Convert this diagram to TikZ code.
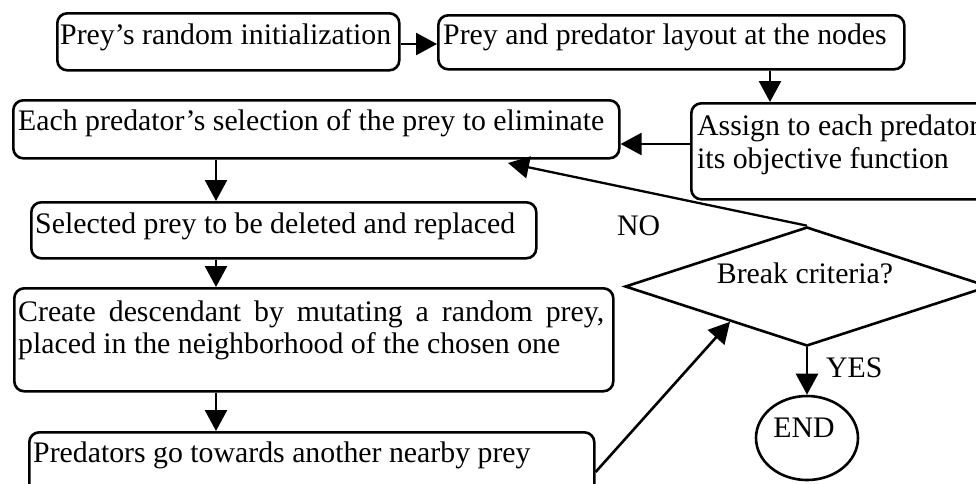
\documentclass[tikz,border=0pt]{standalone}
\usepackage{fontspec}
\setmainfont{Liberation Serif}
\usetikzlibrary{arrows.meta,shapes.geometric,calc}
\tikzset{
  box/.style={draw, line width=2.6pt, rounded corners=10pt, inner sep=0pt, anchor=north west},
  lbl/.style={anchor=base west, inner sep=0pt, font=\fontsize{29.8}{33}\selectfont},
  arr/.style={line width=2.6pt, -{Triangle[length=21pt,width=22pt]}},
}
\begin{document}
\begin{tikzpicture}[x=1pt,y=-1pt]
\useasboundingbox (0,0) rectangle (976,483);
\clip (0,0) rectangle (976,483);
% boxes
\node[box, minimum width=342pt, minimum height=57pt] (b1) at (56,12) {};
\node[box, minimum width=466pt, minimum height=54pt] (b2) at (437,14) {};
\node[box, minimum width=320pt, minimum height=96pt] (b3) at (690,102) {};
\node[box, minimum width=606pt, minimum height=58pt] (b4) at (12,99) {};
\node[box, minimum width=505pt, minimum height=56pt] (b5) at (30,201) {};
\node[box, minimum width=599pt, minimum height=103pt] (b6) at (13,287) {};
\node[box, minimum width=565pt, minimum height=70pt] (b7) at (28,431) {};
\node[draw, line width=2.6pt, diamond, minimum width=364pt, minimum height=119pt, inner sep=0pt] (dia) at (807,286.5) {};
\node[draw, line width=2.6pt, ellipse, minimum width=102pt, minimum height=84pt, inner sep=0pt] (end) at (807,438) {};
% texts
\node[lbl] (t1) at (60,44) {Prey’s random initialization};
\node[lbl] (t2) at (443,44) {Prey and predator layout at the nodes};
\node[lbl] (t3a) at (697,135) {Assign to each predator};
\node[lbl] (t3b) at (697,168) {its objective function};
\node[lbl] (t4) at (18,130) {Each predator’s selection of the prey to eliminate};
\node[lbl] (t5) at (35,233) {Selected prey to be deleted and replaced};
\node[lbl] (t6a) at (18,321) {\hbox to 586pt{Create\hfill descendant\hfill by\hfill mutating\hfill a\hfill random\hfill prey,}};
\node[lbl] (t6b) at (18,353) {placed in the neighborhood of the chosen one};
\node[lbl] (t7) at (33,462) {Predators go towards another nearby prey};
\node[lbl, anchor=base] (tbc) at (805,283) {Break criteria?};
\node[lbl] (tno) at (617,235) {NO};
\node[lbl] (tyes) at (826,377) {YES};
\node[lbl, anchor=base] (tend) at (804,437) {END};
% helper coordinates
\coordinate (r1) at (0,44);
\coordinate (c2) at (770,0);
\coordinate (r3) at (0,144);
\coordinate (cx) at (216,0);
\coordinate (notip) at (508,163);
\coordinate (s7) at (593,472);
% connectors
\draw[arr] (b1.east |- r1) -- (b2.west |- r1);
\draw[arr] (b2.south -| c2) -- (b3.north -| c2);
\draw[arr] (b3.west |- r3) -- (b4.east |- r3);
\draw[arr] (b4.south -| cx) -- (b5.north -| cx);
\draw[arr] (b5.south -| cx) -- (b6.north -| cx);
\draw[arr] (b6.south -| cx) -- (b7.north -| cx);
\draw[arr, line width=2.3pt] (dia.north) -- (notip);
\draw[arr] (b7.east |- s7) -- ($(dia.west)!0.58!(dia.south)$);
\draw[arr] (dia.south) -- (end.north);
\end{tikzpicture}
\end{document}
